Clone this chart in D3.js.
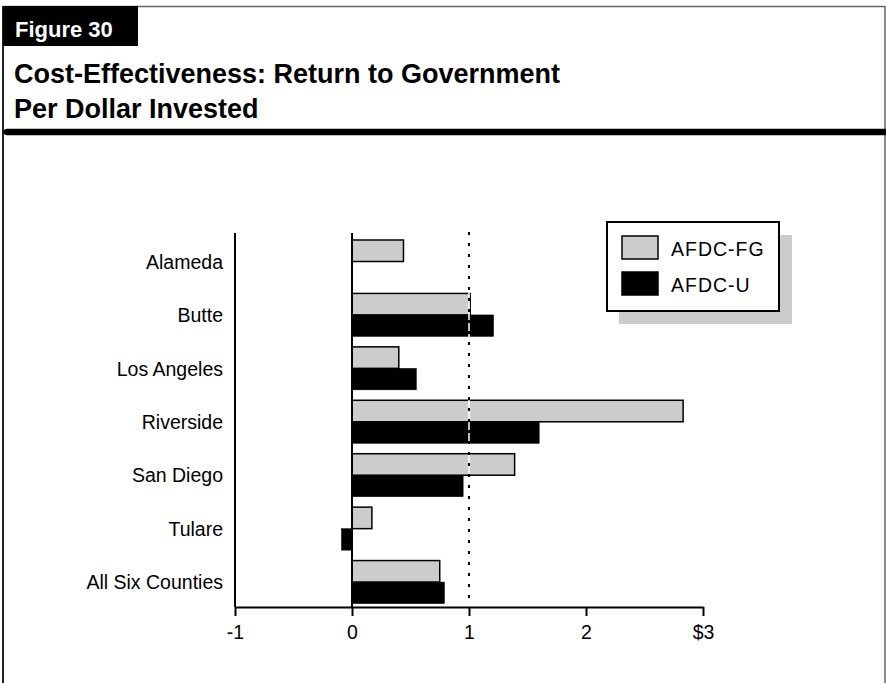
<!DOCTYPE html>
<html><head><meta charset="utf-8">
<script src="https://cdn.jsdelivr.net/npm/d3@7"></script>
<style>body{margin:0;background:#fff}svg{display:block}text{font-family:Arial,"Liberation Sans",Helvetica,sans-serif}</style>
</head><body><div id="chart"></div>
<script>
const categories = ["Alameda","Butte","Los Angeles","Riverside","San Diego","Tulare","All Six Counties"];
const seriesNames = ["AFDC-FG","AFDC-U"];
const afdcFG = [0.44, 1.01, 0.40, 2.83, 1.39, 0.17, 0.75];
const afdcU  = [null, 1.21, 0.55, 1.60, 0.95, -0.09, 0.79];
const tickValues = [-1, 0, 1, 2, 3];
const tickLabels = ["-1", "0", "1", "2", "$3"];
const breakEven = 1;
const figureLabel = "Figure 30";
const titleLines = ["Cost-Effectiveness: Return to Government","Per Dollar Invested"];

const W = 886, H = 683;
const svg = d3.select("#chart").append("svg").attr("width", W).attr("height", H);

// frame
svg.append("line").attr("x1",3).attr("x2",3).attr("y1",6).attr("y2",H).attr("stroke","#222").attr("stroke-width",2);
svg.append("line").attr("x1",885).attr("x2",885).attr("y1",6).attr("y2",H).attr("stroke","#666").attr("stroke-width",1.5);
svg.append("line").attr("x1",3).attr("x2",885).attr("y1",6.5).attr("y2",6.5).attr("stroke","#666").attr("stroke-width",1.5);
svg.append("rect").attr("x",3).attr("y",6).attr("width",135).attr("height",40).attr("fill","#000");
svg.append("text").attr("x",15).attr("y",37).attr("fill","#fff").attr("font-size",22).attr("font-weight","bold").text(figureLabel);
svg.selectAll(".title").data(titleLines).join("text").attr("class","title")
  .attr("x",14).attr("y",(d,i)=>83+i*35).attr("font-size",27).attr("font-weight","bold").attr("fill","#000").text(d=>d);
svg.append("line").attr("x1",7).attr("x2",885).attr("y1",132).attr("y2",132).attr("stroke","#000").attr("stroke-width",6.5).attr("stroke-linecap","round");

// scales
const x = d3.scaleLinear().domain([-1,3]).range([235,703]);
const y = d3.scaleBand().domain(categories).range([233,607]);
const inner = d3.scaleBand().domain(seriesNames).range([7,50]);
const colors = {"AFDC-FG":"#cccccc","AFDC-U":"#000000"};

const rows = categories.map((c,i)=>({cat:c, vals:[{k:"AFDC-FG",v:afdcFG[i]},{k:"AFDC-U",v:afdcU[i]}]}));
const g = svg.append("g");
rows.forEach(r=>{
  r.vals.filter(d=>d.v!==null).forEach(d=>{
    const x0 = x(Math.min(0,d.v)), x1 = x(Math.max(0,d.v));
    g.append("rect").attr("x",x0).attr("y",y(r.cat)+inner(d.k))
      .attr("width",x1-x0).attr("height",inner.bandwidth())
      .attr("fill",colors[d.k]).attr("stroke","#000").attr("stroke-width",d.k==="AFDC-FG"?1.5:0.5);
  });
});

// break-even dotted line
svg.append("line").attr("x1",x(breakEven)).attr("x2",x(breakEven)).attr("y1",232).attr("y2",598).attr("stroke","#fff").attr("stroke-width",1.5);
svg.append("line").attr("x1",x(breakEven)).attr("x2",x(breakEven)).attr("y1",232).attr("y2",598).attr("stroke","#000").attr("stroke-width",2).attr("stroke-dasharray","3,8");

// zero line and y axis line
svg.append("line").attr("x1",x(0)).attr("x2",x(0)).attr("y1",233).attr("y2",607).attr("stroke","#000").attr("stroke-width",2);
svg.append("line").attr("x1",x(-1)).attr("x2",x(-1)).attr("y1",233).attr("y2",607).attr("stroke","#000").attr("stroke-width",2);

// x axis
const xAxis = d3.axisBottom(x).tickValues(tickValues).tickSize(9).tickSizeOuter(0).tickFormat((d,i)=>tickLabels[i]);
const ax = svg.append("g").attr("transform","translate(0,607)").call(xAxis);
ax.select(".domain").attr("stroke","#000").attr("stroke-width",2);
ax.selectAll(".tick line").attr("stroke","#000").attr("stroke-width",2);
ax.selectAll(".tick text").attr("font-size",19.5).attr("font-family","Arial, 'Liberation Sans', sans-serif").attr("fill","#000").attr("dy","1.05em");

// category labels
svg.selectAll(".cat").data(categories).join("text").attr("class","cat")
  .attr("x",223).attr("y",d=>y(d)+y.bandwidth()/2+9).attr("text-anchor","end")
  .attr("font-size",19.5).attr("fill","#000").text(d=>d);

// legend
svg.append("rect").attr("x",619).attr("y",235).attr("width",173).attr("height",89).attr("fill","#cccccc");
svg.append("rect").attr("x",607).attr("y",222).attr("width",172).attr("height",89).attr("fill","#fff").attr("stroke","#000").attr("stroke-width",2);
const lg = svg.selectAll(".leg").data(seriesNames).join("g").attr("class","leg")
  .attr("transform",(d,i)=>`translate(622,${236+i*36})`);
lg.append("rect").attr("width",36).attr("height",23).attr("fill",d=>colors[d]).attr("stroke","#000").attr("stroke-width",1.5);
lg.append("text").attr("x",49).attr("y",20).attr("font-size",19.5).attr("letter-spacing","1px").attr("fill","#000").text(d=>d);
</script></body></html>
